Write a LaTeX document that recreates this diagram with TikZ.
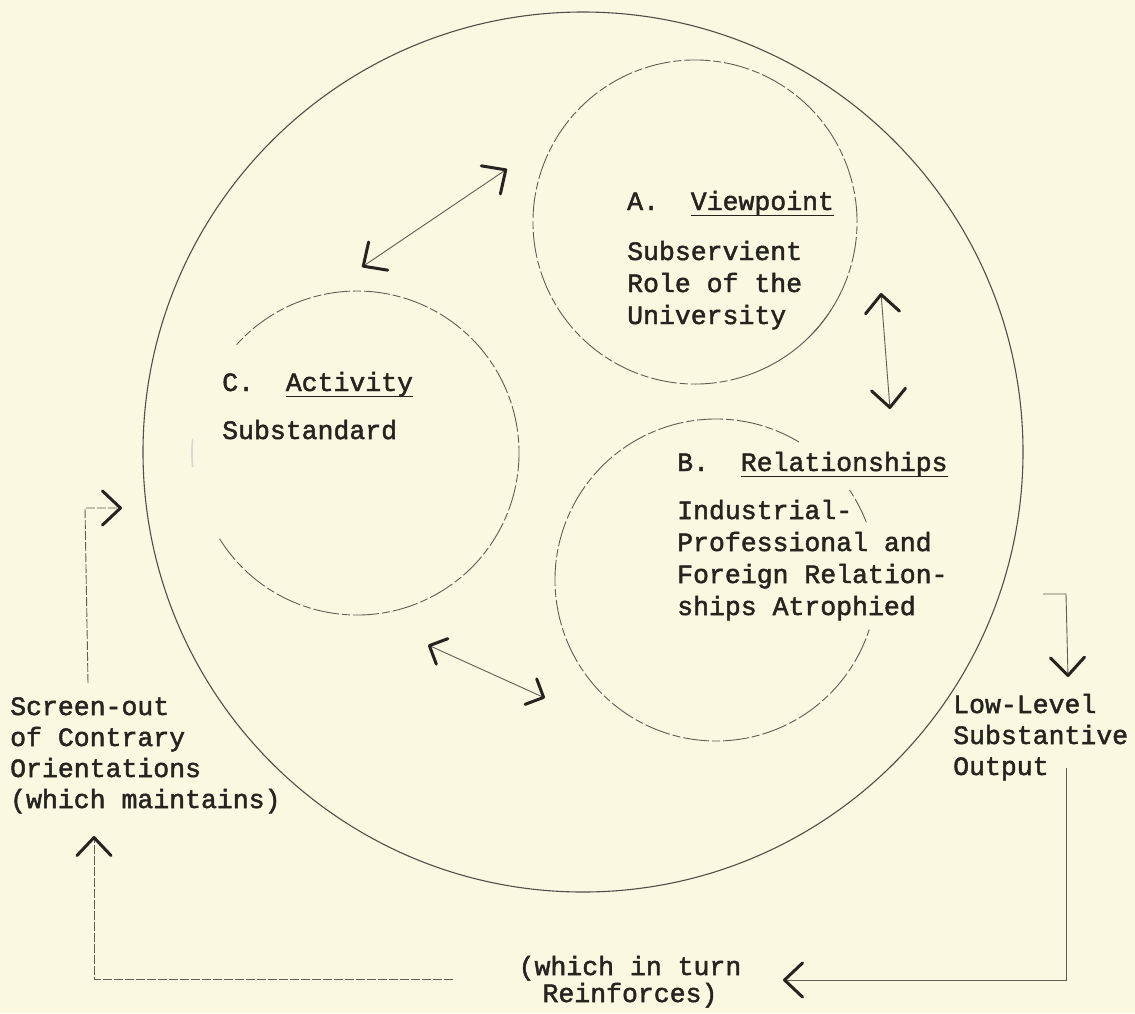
\documentclass[tikz,border=0pt]{standalone}
\usepackage{fontspec}
\newfontfamily\tw{Liberation Mono}[FakeBold=1.8]
\usetikzlibrary{arrows.meta}
\definecolor{paper}{RGB}{250,248,224}
\definecolor{ink}{RGB}{38,36,32}
\definecolor{pencil}{RGB}{95,93,85}
\newcommand\ulin[1]{\setbox0\hbox{#1}\rlap{\rule[-6pt]{\wd0}{1.4pt}}\box0}
\tikzset{
  penL/.tip={Straight Barb[length=18pt,width=34pt,line width=3pt,color=ink,round]},
  penS/.tip={Straight Barb[length=14pt,width=28pt,line width=3pt,color=ink,round]},
}
\begin{document}
\begin{tikzpicture}[x=1pt,y=-1pt,
  txt/.style={font=\tw\fontsize{26.5}{32}\selectfont, text=ink, inner sep=0pt, anchor=base west, align=left},
  innerc/.style={draw=pencil, line width=0.9pt, dash pattern=on 26pt off 3pt on 8pt off 3pt},
  bigc/.style={draw=pencil!85!black, line width=1.1pt},
  shaft/.style={draw=pencil, line width=0.9pt},
  dshaft/.style={draw=pencil, line width=0.9pt, dash pattern=on 9pt off 2pt}]
\fill[paper] (0,0) rectangle (1135,1013);
\useasboundingbox (0,0) rectangle (1135,1013);

% circle centres
\coordinate (cO) at (583,452);
\coordinate (cA) at (695,222);
\coordinate (cB) at (716,580);
\coordinate (cC) at (357,453);

% big circle
\draw[bigc] (cO) circle[radius=440pt];

% A circle
\draw[innerc] ([shift={(-71:162pt)}]cA) arc[start angle=-71, end angle=336.6, radius=162pt];
\draw[innerc] ([shift={(-43.8:162pt)}]cA) arc[start angle=-43.8, end angle=-32.7, radius=162pt];
% B circle
\draw[innerc] ([shift={(59:161pt)}]cB) arc[start angle=59, end angle=342, radius=161pt];
\draw[innerc] ([shift={(21:161pt)}]cB) arc[start angle=21, end angle=34, radius=161pt];
% C circle
\draw[innerc] ([shift={(-148:162pt)}]cC) arc[start angle=-148, end angle=138, radius=162pt];
\draw[draw=pencil!25, line width=1.6pt] ([shift={(175:165pt)}]cC) arc[start angle=175, end angle=185, radius=165pt];

% texts (multi-line nodes are placed by the baseline of their last line)
\node[txt] (Ahead) at (627,210) {A.\ \ \ulin{Viewpoint}};
\node[txt] (Abody) at (627,324) {Subservient\\Role of the\\University};
\node[txt] (Chead) at (222,391) {C.\ \ \ulin{Activity}};
\node[txt] (Cbody) at (222,439) {Substandard};
\node[txt] (Bhead) at (677,471) {B.\ \ \ulin{Relationships}};
\node[txt] (Bbody) at (677,615) {Industrial-\\Professional and\\Foreign Relation-\\ships Atrophied};
\node[txt, font=\tw\fontsize{26.5}{31}\selectfont] (Lbl) at (10,808) {Screen-out\\of Contrary\\Orientations\\(which maintains)};
\node[txt, font=\tw\fontsize{26.5}{31}\selectfont] (Rbl) at (953,775) {Low-Level\\Substantive\\Output};
\node[txt, font=\tw\fontsize{26.5}{27}\selectfont, align=center, anchor=base] (Mid) at (630,1002) {(which in turn\\Reinforces)};

% double arrows between circles
\coordinate (ac1) at (362,267); \coordinate (ac2) at (507,169);
\draw[shaft, arrows={penL-penL}] (ac1) -- (ac2);
\coordinate (ab1) at (881,293); \coordinate (ab2) at (890,409);
\draw[shaft, arrows={penL-penL}] (ab1) -- (ab2);
\coordinate (cb1) at (428,645); \coordinate (cb2) at (545,698);
\draw[shaft, arrows={penS-penS}] (cb1) -- (cb2);

% feedback loop
\coordinate (r0) at (1043,594); \coordinate (r1) at (1066,594); \coordinate (r2) at (1068,677);
\draw[shaft, arrows={-penL}] (r0) -- (r1) -- (r2);
\coordinate (r3) at (1066,768); \coordinate (r4) at (1066,980); \coordinate (r5) at (783,980);
\draw[shaft, arrows={-penL}] (r3) -- (r4) -- (r5);
\coordinate (l0) at (453,979); \coordinate (l1) at (94,979); \coordinate (l2) at (94,836);
\draw[dshaft, arrows={-penL}] (l0) -- (l1) -- (l2);
\coordinate (l3) at (88,683); \coordinate (l4) at (85,508); \coordinate (l5) at (122,508);
\draw[dshaft, arrows={-penL}] (l3) -- (l4) -- (l5);
\end{tikzpicture}
\end{document}
